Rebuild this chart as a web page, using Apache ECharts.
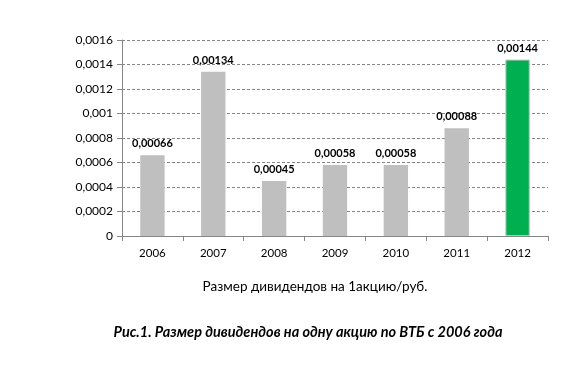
<!DOCTYPE html>
<html><head><meta charset="utf-8">
<script src="https://cdn.jsdelivr.net/npm/echarts@6/dist/echarts.min.js"></script>
<style>html,body{margin:0;padding:0;background:#fff}#c{width:587px;height:368px}</style>
</head><body><div id="c"></div>
<script>
const years = ['2006','2007','2008','2009','2010','2011','2012'];
const dividends = [0.00066, 0.00134, 0.00045, 0.00058, 0.00058, 0.00088, 0.00144];
const barColors = ['#BFBFBF','#BFBFBF','#BFBFBF','#BFBFBF','#BFBFBF','#BFBFBF','#00B050'];
const axisName = 'Размер дивидендов на 1акцию/руб.';
const caption = 'Рис.1. Размер дивидендов на одну акцию по ВТБ с 2006 года';
const FONT = 'Lato, "Open Sans", sans-serif';
const fmt = v => String(Math.round(v * 1e5) / 1e5).replace('.', ',');

const chart = echarts.init(document.getElementById('c'), null, {renderer: 'canvas'});
chart.setOption({
  animation: false,
  grid: {left: 122, right: 39, top: 40, bottom: 132},
  title: [
    {text: axisName, left: 310, top: 275, textAlign: 'center',
     textStyle: {fontFamily: FONT, fontSize: 13.5, fontWeight: 'normal', color: '#000'}},
    {text: caption, left: 303, top: 320, textAlign: 'center',
     textStyle: {fontFamily: FONT, fontSize: 14.5, fontWeight: 'bold', fontStyle: 'italic', color: '#000'}}
  ],
  xAxis: {
    type: 'category', data: years,
    axisLine: {lineStyle: {color: '#868686'}},
    axisTick: {show: true, length: 5, lineStyle: {color: '#868686'}},
    axisLabel: {fontFamily: FONT, fontSize: 11.5, color: '#000', margin: 11}
  },
  yAxis: {
    type: 'value', min: 0, max: 0.0016, interval: 0.0002,
    axisLine: {show: true, lineStyle: {color: '#868686'}},
    axisTick: {show: true, length: 5, lineStyle: {color: '#868686'}},
    splitLine: {lineStyle: {color: '#868686', type: [3, 2]}},
    axisLabel: {fontFamily: FONT, fontSize: 12, color: '#000', margin: 9, formatter: fmt}
  },
  series: [{
    type: 'bar',
    barWidth: '40%',
    data: dividends.map((v, i) => ({value: v, itemStyle: {color: barColors[i], borderColor: i === 6 ? '#BFBFBF' : barColors[i], borderWidth: i === 6 ? 1 : 0}})),
    label: {show: true, position: 'top', distance: 6, fontFamily: FONT, fontSize: 11, fontWeight: 'bold', color: '#000', formatter: p => fmt(p.value)}
  }]
});
</script></body></html>
